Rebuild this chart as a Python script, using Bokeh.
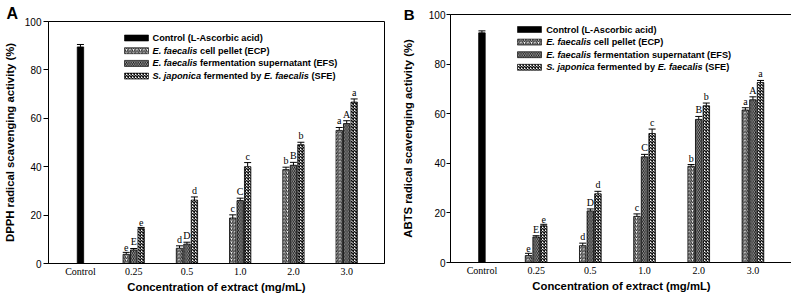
import numpy as np
from bokeh.plotting import figure
from bokeh.layouts import row
from bokeh.models import (ColumnDataSource, Whisker, TeeHead, FixedTicker, Range1d, Title,
                          LinearAxis)
from bokeh.core.properties import value
from bokeh.embed import file_html
from bokeh.resources import INLINE

# ---------------- data ----------------
categories = ["Control", "0.25", "0.5", "1.0", "2.0", "3.0"]
series_labels = [
    [("Control (L-Ascorbic acid)", "bold")],
    [("E. faecalis", "bold italic"), (" cell pellet (ECP)", "bold")],
    [("E. faecalis", "bold italic"), (" fermentation supernatant (EFS)", "bold")],
    [("S. japonica", "bold italic"), (" fermented by ", "bold"),
     ("E. faecalis", "bold italic"), (" (SFE)", "bold")],
]

# Panel A: DPPH
dpph_control = 89.5
dpph_control_err = 1.0
dpph_ecp = [3.8, 6.3, 18.8, 38.8, 55.0]
dpph_ecp_err = [0.8, 1.0, 1.3, 1.0, 1.2]
dpph_efs = [5.6, 8.0, 26.0, 40.6, 57.8]
dpph_efs_err = [0.6, 0.8, 1.0, 1.2, 1.2]
dpph_sfe = [14.4, 26.2, 40.0, 49.1, 66.7]
dpph_sfe_err = [0.5, 1.3, 1.7, 1.0, 1.3]

# Panel B: ABTS
abts_control = 92.6
abts_control_err = 0.8
abts_ecp = [2.8, 6.8, 18.6, 38.8, 61.5]
abts_ecp_err = [0.9, 1.0, 1.0, 0.7, 0.9]
abts_efs = [10.3, 20.8, 42.6, 57.7, 65.6]
abts_efs_err = [0.5, 0.8, 1.0, 1.2, 1.2]
abts_sfe = [14.8, 27.7, 52.0, 63.2, 72.6]
abts_sfe_err = [0.6, 1.0, 1.8, 1.1, 0.8]

letters_ecp = ["e", "d", "c", "b", "a"]
letters_efs = ["E", "D", "C", "B", "A"]
letters_sfe = ["e", "d", "c", "b", "a"]

# ---------------- styles ----------------
SANS = "Liberation Sans"
SERIF = "Liberation Serif"
control_style = dict(fill_color="black")
series_styles = [
    dict(fill_color="white", hatch_pattern="/", hatch_color="#222222", hatch_weight=1.1, hatch_scale=3.5),
    dict(fill_color="#0d0d0d", hatch_pattern="\\", hatch_color="white", hatch_weight=0.6, hatch_scale=3.5),
    dict(fill_color="white", hatch_pattern="x", hatch_color="#111111", hatch_weight=1.5, hatch_scale=3.0),
]
BAR_W = 0.12
OFFSETS = [-0.14, 0.0, 0.14]

# Arial/Liberation Sans Bold advance widths (per 1000 em)
CW = {" ": 278, "(": 333, ")": 333, "-": 333, ".": 278, "A": 722, "B": 722, "C": 722,
      "D": 722, "E": 667, "F": 611, "L": 611, "P": 667, "S": 667, "a": 556, "b": 611,
      "c": 556, "d": 611, "e": 556, "f": 333, "i": 278, "j": 278, "l": 278, "m": 889,
      "n": 611, "o": 611, "p": 611, "r": 389, "s": 556, "t": 333, "u": 611, "y": 556}
LEG_SIZE = 9.2


def tw(s, size):
    return sum(CW.get(c, 556) for c in s) * size / 1000.0


def style_axis_label(ax):
    ax.axis_label_text_font = SANS
    ax.axis_label_text_font_style = "bold"
    ax.axis_label_text_font_size = "11.3px"
    ax.axis_label_text_color = "black"


def make_panel(panel, ytitle, control, control_err, series, series_err, cfg):
    x0, x1 = cfg["xr"]
    y0, y1 = 0, 100
    fw, fh = cfg["fw"], cfg["fh"]
    p = figure(frame_width=fw, frame_height=fh, output_backend="svg", toolbar_location=None,
               x_range=Range1d(x0, x1), y_range=Range1d(y0, y1),
               min_border_left=cfg["ml"], min_border_right=cfg["mr"],
               min_border_top=cfg["mt"], min_border_bottom=cfg["mb"],
               background_fill_color="white", border_fill_color="white")
    p.frame_align = False
    p.grid.visible = False
    p.outline_line_color = "black"
    p.outline_line_width = 1
    p.outline_line_alpha = 1

    def px_x(px):
        return x0 + px * (x1 - x0) / fw

    def px_y(px):
        return y1 - px * (y1 - y0) / fh

    # control bar
    p.vbar(x=[0], top=[control], width=BAR_W, bottom=0, line_color="black", line_width=0.8, **control_style)
    wx, wl, wu = [0.0], [control], [control + control_err]
    tx, ty, tt = [], [], []
    letter_sets = [letters_ecp, letters_efs, letters_sfe]
    for k, (vals, errs) in enumerate(zip(series, series_err)):
        xs = np.arange(1, len(vals) + 1) + OFFSETS[k]
        p.vbar(x=xs, top=vals, width=BAR_W, bottom=0, line_color="black", line_width=0.8,
               **series_styles[k])
        for xi, v, e, lt in zip(xs, vals, errs, letter_sets[k]):
            wx.append(float(xi)); wl.append(v); wu.append(v + e)
            tx.append(float(xi)); ty.append(v + e); tt.append(lt)
    wsrc = ColumnDataSource(dict(x=wx, lower=wl, upper=wu))
    p.add_layout(Whisker(source=wsrc, base="x", lower="lower", upper="upper",
                         line_color="black", line_width=1, lower_head=None,
                         upper_head=TeeHead(size=7, line_color="black", line_width=1)))
    p.text(x=tx, y=ty, text=tt, text_font=value(SERIF), text_font_size="10px",
           text_align="center", text_baseline="bottom", y_offset=-1, text_color="black")

    # legend (manual, mixed italic)
    styles_all = [control_style] + series_styles
    for r, pieces in enumerate(series_labels):
        cy = px_y(cfg["leg_top"] + r * cfg["leg_dy"])
        p.rect(x=[px_x(cfg["sw_left"] + 12)], y=[cy], width=24, height=6,
               width_units="screen", height_units="screen", line_color="black", line_width=0.6,
               **styles_all[r])
        off = 0.0
        xs_, ys_, ts_, os_, st_ = [], [], [], [], []
        for txt, style in pieces:
            lead = len(txt) - len(txt.lstrip(" "))
            off += tw(" " * lead, LEG_SIZE)
            core = txt.strip(" ")
            xs_.append(px_x(cfg["txt_left"])); ys_.append(cy); ts_.append(core)
            os_.append(off); st_.append(style)
            off += tw(txt.lstrip(" "), LEG_SIZE)
        src = ColumnDataSource(dict(x=xs_, y=ys_, t=ts_, o=os_, s=st_))
        p.text(x="x", y="y", text="t", x_offset="o", text_font_style="s", source=src,
               text_font=value(SANS), text_font_size=f"{LEG_SIZE}px",
               text_align="left", text_baseline="middle", text_color="black")

    # axes
    p.xaxis.ticker = FixedTicker(ticks=list(range(len(categories))))
    p.xaxis.major_label_overrides = {i: c for i, c in enumerate(categories)}
    p.xaxis.major_tick_out = 0
    p.xaxis.major_tick_in = 0
    p.xaxis.minor_tick_out = 0
    p.xaxis.major_label_standoff = 2
    p.xaxis.major_label_text_font = SERIF
    p.xaxis.major_label_text_font_size = "10px"
    p.xaxis.axis_label = "Concentration of extract (mg/mL)"
    p.xaxis.axis_label_standoff = 1
    p.xaxis.axis_line_color = "black"
    p.xaxis.major_label_text_color = "black"
    style_axis_label(p.xaxis[0])

    yax = p.yaxis[0]
    yax.ticker = FixedTicker(ticks=[0, 20, 40, 60, 80, 100])
    yax.major_tick_out = cfg["tick_out"]
    yax.major_tick_in = 0
    yax.minor_tick_out = 0
    yax.minor_tick_in = 0
    yax.major_label_standoff = cfg["lab_so"]
    yax.major_label_text_font = SANS
    yax.major_label_text_font_size = "10px"
    yax.axis_line_color = "black"
    yax.major_tick_line_color = "black"
    yax.major_label_text_color = "black"
    style_axis_label(yax)

    if cfg["letter_mode"] == "title":
        yax.axis_label = ytitle
        yax.axis_label_standoff = 6
        p.add_layout(Title(text=panel, align="left", offset=cfg["pl_dx"], standoff=0,
                           text_font=SANS, text_font_style="bold", text_font_size="16px",
                           text_color="black"), "above")
    else:
        # outer axis carrying the panel letter (at the top tick) and the axis title,
        # with the title tucked under the letter's column
        ax2 = LinearAxis(ticker=FixedTicker(ticks=[y1]),
                         major_label_overrides={y1: panel},
                         major_label_text_font=SANS, major_label_text_font_style="bold",
                         major_label_text_font_size="15px", major_label_text_color="black",
                         major_label_standoff=11,
                         major_tick_out=0, major_tick_in=0, minor_tick_out=0, minor_tick_in=0,
                         axis_line_color=None, axis_label=ytitle, axis_label_standoff=-13)
        style_axis_label(ax2)
        p.add_layout(ax2, "left")
    return p


cfgA = dict(xr=(-0.60, 5.71), fw=336, fh=242, ml=45, mr=14, mt=21, mb=32, tick_out=5, lab_so=2,
            sw_left=76, txt_left=104, leg_top=16.5, leg_dy=12.7, pl_dx=-42, letter_mode="title")
cfgB = dict(xr=(-0.58, 5.73), fw=342, fh=248, ml=51, mr=3, mt=14, mb=33, tick_out=4, lab_so=1,
            sw_left=67, txt_left=95.7, leg_top=15.0, leg_dy=12.6, pl_dx=-45, letter_mode="axis")

pA = make_panel("A", "DPPH radical scavenging activity (%)", dpph_control, dpph_control_err,
                [dpph_ecp, dpph_efs, dpph_sfe], [dpph_ecp_err, dpph_efs_err, dpph_sfe_err], cfgA)
pB = make_panel("B", "ABTS radical scavenging activity (%)", abts_control, abts_control_err,
                [abts_ecp, abts_efs, abts_sfe], [abts_ecp_err, abts_efs_err, abts_sfe_err], cfgB)

layout = row(pA, pB, spacing=0)
open("out.html", "w").write(file_html(layout, INLINE))
